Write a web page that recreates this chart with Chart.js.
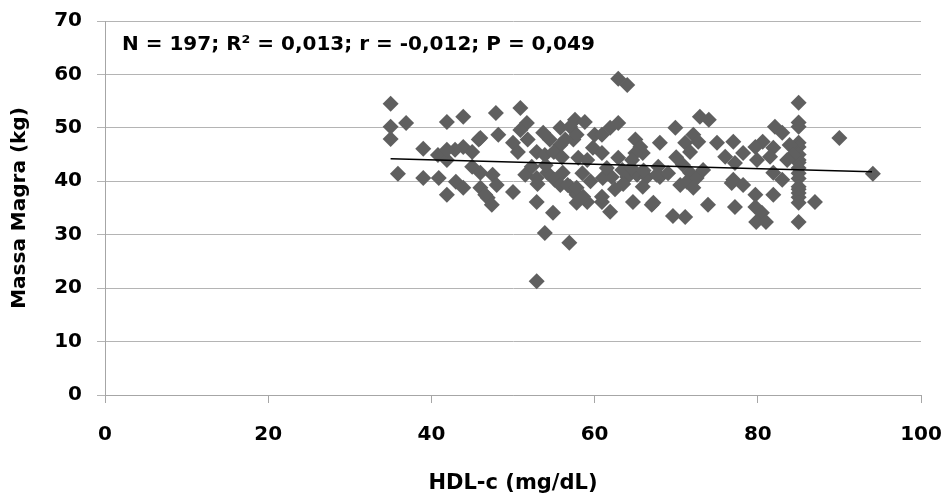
<!DOCTYPE html>
<html>
<head>
<meta charset="utf-8">
<title>Massa Magra x HDL-c</title>
<script src="https://cdn.jsdelivr.net/npm/chart.js@4.4.1/dist/chart.umd.min.js"></script>
<style>
  html, body { margin: 0; padding: 0; background: #fff; }
  #wrap { width: 947px; height: 499px; }
</style>
</head>
<body>
<div id="wrap"><canvas id="myChart" width="947" height="499"></canvas></div>
<script>
//========================= Data ==================================//

// HDL-c (mg/dL)
const hdl = [
  35.0, 35.0, 36.9, 35.0, 41.9, 43.9, 39.0, 45.8, 35.9, 39.0, 40.9, 41.9, 43.0, 43.9, 40.8, 41.9,
  42.9, 43.9, 45.0, 41.9, 45.0, 46.0, 46.9, 47.4,
  47.9, 50.9, 46.0, 48.2, 51.7, 50.9, 50.0, 50.6, 51.8, 53.7, 54.5, 55.8, 52.9, 53.9, 57.0, 57.4,
  46.0, 47.5, 48.0, 46.6, 50.0, 51.5, 52.3, 52.9, 54.2, 55.1, 55.8, 52.9, 57.0, 57.8,
  54.9, 53.9, 56.9, 52.9, 57.8, 59.1, 60.9, 61.9, 64.7, 67.0,
  62.9, 64.0, 57.6, 58.8, 57.8, 56.4, 55.8, 60.0, 60.9, 61.9, 62.9, 59.8, 60.9, 58.0, 59.1, 65.0,
  65.6, 65.9, 65.0, 64.6, 68.0, 62.9, 63.4, 62.1, 61.0, 64.0, 65.2, 66.4, 67.8, 68.0, 56.1, 56.7,
  57.8, 58.6, 60.9, 65.9,
  72.9, 74.0, 69.9, 71.1, 72.1, 72.7, 71.7, 75.0, 77.0, 78.2, 76.0, 77.2, 67.6, 70.8, 71.7, 71.3,
  72.5, 73.3, 72.1, 70.5, 76.8, 67.2, 73.9, 77.2, 79.7, 79.7, 69.6, 71.1, 77.0,
  85, 85, 85, 85, 85, 85, 85, 85, 85, 85, 85, 85, 85, 85, 85, 85, 85,
  90.0, 94.1, 87.0, 82.1, 83.0, 80.6, 79.7, 81.9, 81.5, 79.9, 83.9, 84.3, 83.6, 81.9, 83.0, 81.9,
  80.5, 78.2, 79.8, 81.0,
  63.5, 64.5, 62.5, 66.0, 61.5, 55.0, 56.0, 53.0, 54.0, 69.0, 70.0, 58.5, 59.5
];

// Massa Magra (kg)
const massaMagra = [
  54.5, 50.2, 50.9, 47.9, 51.1, 52.1, 46.1, 47.8, 41.4, 40.6, 40.6, 37.5, 39.9, 38.8, 44.9, 44.0,
  45.9, 46.4, 45.5, 45.9, 42.7, 38.8, 36.9, 35.6,
  52.8, 53.7, 48.1, 48.7, 50.9, 49.6, 47.2, 45.5, 47.8, 49.1, 47.8, 46.8, 45.5, 44.9, 50.2, 47.8,
  41.6, 41.2, 39.3, 37.5, 38.0, 41.2, 42.7, 40.6, 41.6, 40.3, 39.3, 36.1, 39.0, 37.5,
  34.1, 30.3, 28.5, 21.3, 36.0, 36.1, 36.1, 34.3, 36.1, 35.6,
  59.2, 58.0, 51.5, 51.1, 48.7, 47.8, 50.0, 48.7, 48.7, 50.0, 50.9, 46.3, 45.3, 44.4, 44.0, 47.8,
  46.4, 45.3, 45.3, 44.0, 47.2, 44.4, 42.1, 40.8, 40.6, 40.8, 41.2, 40.8, 42.7, 40.8, 41.6, 39.3,
  38.8, 37.1, 37.1, 39.0,
  52.1, 51.5, 50.0, 47.2, 48.7, 47.4, 45.5, 47.2, 47.4, 45.3, 44.6, 43.4, 41.2, 43.1, 41.6, 39.9,
  40.6, 42.1, 38.8, 39.3, 39.7, 36.0, 35.6, 35.2, 37.5, 35.2, 33.5, 33.3, 40.3,
  54.7, 51.0, 50.2, 47.2, 46.4, 45.0, 44.0, 43.5, 42.5, 41.5, 40.5, 39.0, 38.5, 37.8, 37.0, 36.0, 32.4,
  48.1, 41.4, 36.1, 50.2, 49.1, 47.4, 46.4, 46.3, 44.6, 44.0, 46.8, 44.9, 44.0, 41.6, 40.3, 37.5,
  34.1, 39.3, 32.4, 32.4,
  39.5, 42.5, 38.5, 42.0, 42.5, 45.5, 44.5, 39.5, 43.0, 41.5, 44.5, 41.5, 40.0
];

// linear trend line, end points
const trendX = [35, 94];
const trendY = [44.2, 41.8];

const xTicks = [0, 20, 40, 60, 80, 100];
const yTicks = [0, 10, 20, 30, 40, 50, 60, 70];

const statsText = 'N = 197; R\u00B2 = 0,013; r = -0,012; P = 0,049';

//========================= Chart ==================================//

const FONT = '"DejaVu Sans", "Liberation Sans", Arial, sans-serif';

/***************************************************************
* Stats label inside the plot
****************************************************************/
const statsLabel = {
  id: 'statsLabel',
  afterDraw(chart) {
    const { ctx, chartArea } = chart;
    ctx.save();
    ctx.font = 'bold 20px ' + FONT;
    ctx.fillStyle = '#000';
    ctx.textBaseline = 'middle';
    ctx.textAlign = 'left';
    ctx.fillText(statsText, chartArea.left + 17, chartArea.top + 24);
    ctx.restore();
  }
};

const ctx = document.getElementById('myChart').getContext('2d');

const myChart = new Chart(ctx, {
  type: 'scatter',
  data: {
    datasets: [
      {
        label: 'Linear',
        type: 'line',
        data: trendX.map((x, i) => ({ x: x, y: trendY[i] })),
        borderColor: '#000',
        borderWidth: 1.5,
        pointRadius: 0,
        fill: false,
        order: 0
      },
      {
        label: 'Massa Magra',
        data: hdl.map((x, i) => ({ x: x, y: massaMagra[i] })),
        pointStyle: 'rectRot',
        pointRadius: 8,
        backgroundColor: '#5f5f5f',
        borderColor: '#5f5f5f',
        borderWidth: 0,
        order: 1
      }
    ]
  },
  options: {
    responsive: false,
    animation: false,
    layout: { padding: { top: 21, right: 26, left: 0, bottom: 0 } },
    plugins: {
      legend: { display: false },
      tooltip: { enabled: false }
    },
    scales: {
      x: {
        type: 'linear',
        position: 'bottom',
        min: 0,
        max: 100,
        afterBuildTicks: s => { s.ticks = xTicks.map(v => ({ value: v })); },
        // fixed box, no extra side padding from the labels
        afterFit: s => { s.height = 104; s.paddingLeft = 0; s.paddingRight = 0; },
        grid: { drawOnChartArea: false, drawTicks: true, tickLength: 8, color: '#a6a6a6' },
        border: { color: '#a6a6a6' },
        ticks: { color: '#000', font: { family: FONT, size: 20, weight: 'bold' }, padding: 20, maxRotation: 0 },
        title: {
          display: true,
          text: 'HDL-c (mg/dL)',
          color: '#000',
          font: { family: FONT, size: 21, weight: 'bold' },
          padding: { top: 0, bottom: 3 }
        }
      },
      y: {
        min: 0,
        max: 70,
        afterBuildTicks: s => { s.ticks = yTicks.map(v => ({ value: v })); },
        afterFit: s => { s.width = 105; s.paddingTop = 0; s.paddingBottom = 0; },
        grid: { color: '#b4b4b4', tickLength: 8 },
        border: { color: '#a6a6a6' },
        ticks: { color: '#000', font: { family: FONT, size: 20, weight: 'bold' }, padding: 15 },
        title: {
          display: true,
          text: 'Massa Magra (kg)',
          color: '#000',
          font: { family: FONT, size: 20, weight: 'bold' },
          padding: { top: 8, bottom: 0 }
        }
      }
    }
  },
  plugins: [statsLabel]
});
</script>
</body>
</html>
